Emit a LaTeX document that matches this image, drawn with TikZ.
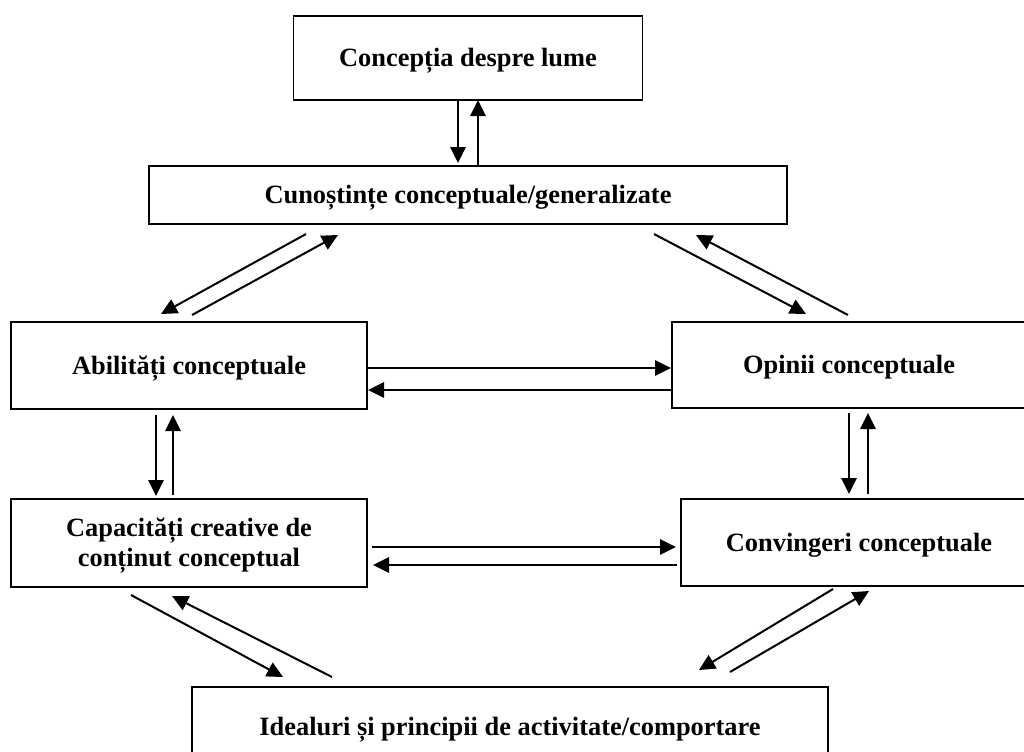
\documentclass[tikz,border=0pt]{standalone}
\usepackage{fontspec}
\setmainfont{Liberation Serif}
\usetikzlibrary{arrows.meta,calc}
\tikzset{
  box/.style={draw=black, line width=1.1pt, inner sep=0pt, outer sep=0pt, align=center,
    font=\fontsize{19.8}{22.5}\selectfont\bfseries},
  oneline/.style={text height=13pt, text depth=0pt},
  arr/.style={line width=1.5pt, -{Triangle[length=12pt,width=11.5pt]}}
}
\begin{document}
\begin{tikzpicture}[x=0.75pt,y=-0.75pt]
\useasboundingbox (0,0) rectangle (1024,751);
\clip (0,0) rectangle (1024,751);
\fill[white] (0,0) rectangle (1024,751);
\node[box, oneline, minimum width=261.75pt, minimum height=63pt] (b1) at (468,58) {Concepția despre lume};
\node[box, oneline, minimum width=478.5pt, minimum height=43.5pt] (b2) at (468,195) {Cunoștințe conceptuale/generalizate};
\node[box, oneline, minimum width=267pt, minimum height=65.25pt] (b3) at (189,365.5) {Abilități conceptuale};
\node[box, oneline, minimum width=265.5pt, minimum height=64.5pt] (b4) at (849,365) {Opinii conceptuale};
\node[box, minimum width=267pt, minimum height=66pt] (b5) at (189,543) {};
\node[font=\fontsize{19.8}{22.5}\selectfont\bfseries, align=center, inner sep=0pt] (t5) at ($(b5.center)+(0,3)$) {Capacități creative de\\conținut conceptual};
\node[box, oneline, minimum width=267pt, minimum height=65.25pt] (b6) at (859,542.5) {Convingeri conceptuale};
\node[box, oneline, minimum width=477pt, minimum height=60pt] (b7) at (510,727) {Idealuri și principii de activitate/comportare};
% b1 <-> b2
\draw[arr] ($(b1.south)+(-10,0)$) -- ($(b2.north)+(-10,-3)$);
\draw[arr] ($(b2.north)+(10,0)$) -- ($(b1.south)+(10,0)$);
% b2 <-> b3
\draw[arr] ($(b2.south)+(-162,10)$) -- ($(b3.north)+(-28,-8)$);
\draw[arr] ($(b3.north)+(3,-7)$) -- ($(b2.south)+(-130,11)$);
% b2 <-> b4
\draw[arr] ($(b2.south)+(186,10)$) -- ($(b4.north)+(-43,-8)$);
\draw[arr] ($(b4.north)+(-1,-7)$) -- ($(b2.south)+(228,11)$);
% b3 <-> b4
\draw[arr] ($(b3.east)+(0,2.5)$) -- ($(b4.west)+(-1,3)$);
\draw[arr] ($(b4.west)+(0,25)$) -- ($(b3.east)+(1,24.5)$);
% b3 <-> b5
\draw[arr] ($(b3.south)+(-33,6)$) -- ($(b5.north)+(-33,-3)$);
\draw[arr] ($(b5.north)+(-16,-4)$) -- ($(b3.south)+(-16,6)$);
% b4 <-> b6
\draw[arr] ($(b4.south)+(0,5)$) -- ($(b6.north)+(-10,-5)$);
\draw[arr] ($(b6.north)+(9,-5)$) -- ($(b4.south)+(19,5)$);
% b5 <-> b6
\draw[arr] ($(b5.east)+(5,4)$) -- ($(b6.west)+(-5,4.5)$);
\draw[arr] ($(b6.west)+(-4,22.5)$) -- ($(b5.east)+(6,22)$);
% b5 <-> b7
\draw[arr] ($(b5.south)+(-58,8)$) -- ($(b7.north)+(-227,-10)$);
\draw[arr] ($(b7.north)+(-178,-10)$) -- ($(b5.south)+(-17,9)$);
% b6 <-> b7
\draw[arr] ($(b6.south)+(-26,3)$) -- ($(b7.north)+(189,-17)$);
\draw[arr] ($(b7.north)+(220,-15)$) -- ($(b6.south)+(10,5)$);
\end{tikzpicture}
\end{document}
